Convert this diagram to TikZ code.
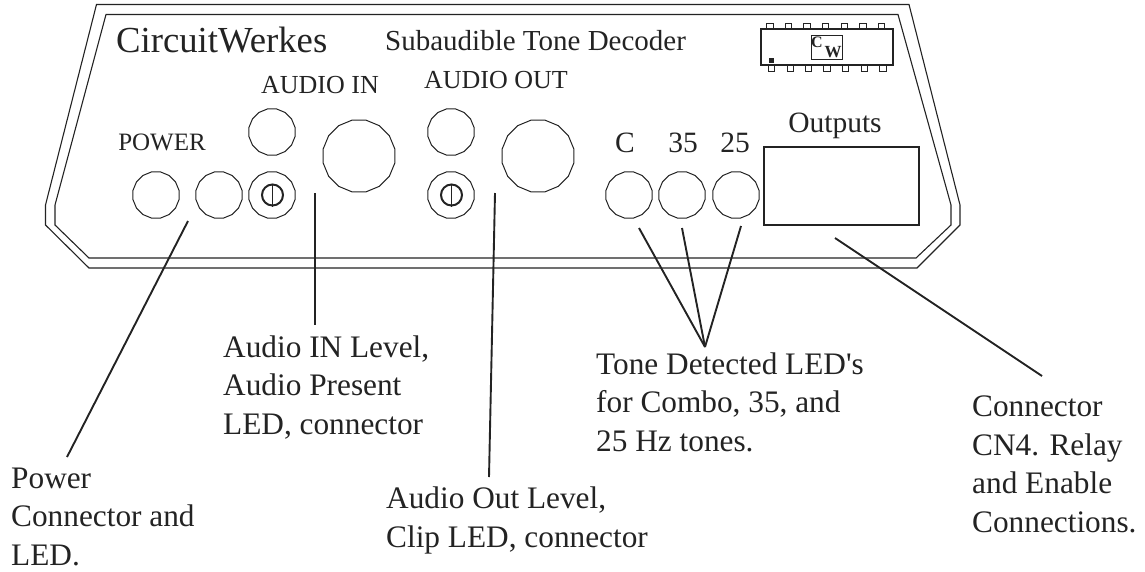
\documentclass[tikz,border=0pt]{standalone}
\usepackage{fontspec}
\setmainfont{Liberation Serif}
\usetikzlibrary{positioning,shapes.geometric}
\definecolor{PanelInk}{RGB}{35,35,35}
\tikzset{
  panelline/.style={draw=PanelInk,line width=1.1pt,line join=miter},
  leader/.style={draw=PanelInk,line width=1.9pt},
  led/.style={regular polygon,regular polygon sides=16,draw=PanelInk,line width=1pt,
    minimum size=47pt,inner sep=0pt},
  jack/.style={led,minimum size=73pt},
  trim/.style={circle,draw=PanelInk,line width=2pt,minimum size=21pt,inner sep=0pt},
  pin/.style={draw=PanelInk,line width=1pt,minimum width=6.5pt,minimum height=6pt,inner sep=0pt},
  paneltext/.style={text=PanelInk,font=\fontsize{26}{28}\selectfont,inner sep=0pt,anchor=base},
  note/.style={text=PanelInk,font=\fontsize{31.3}{38.5}\selectfont,align=left,inner sep=0pt,anchor=base west}
}
\begin{document}
\begin{tikzpicture}[x=1pt,y=-1pt]
  \useasboundingbox (0,0) rectangle (1145,571);
  % panel outline
  \draw[panelline] (96.5,4.5) -- (909,4.5) -- (960,205) -- (960,225) -- (917,268) -- (89,268)
    -- (45.5,225) -- (45.5,205) -- cycle;
  \draw[panelline] (106,14.5) -- (898,14.5) -- (951,205) -- (951,225) -- (916,258) -- (89,258)
    -- (55,225) -- (55,205) -- cycle;
  % panel text
  \node[paneltext,font=\fontsize{36.7}{38}\selectfont,anchor=base west] (brand) at (116,52) {CircuitWerkes};
  \node[paneltext,font=\fontsize{29}{31}\selectfont,anchor=base west] (title) at (385,50) {Subaudible Tone Decoder};
  \node[paneltext] (audioin) at (320,93) {AUDIO IN};
  \node[paneltext] (audioout) at (496,88) {AUDIO OUT};
  \node[paneltext,font=\fontsize{25}{27}\selectfont] (power) at (162,150) {POWER};
  \node[paneltext,font=\fontsize{29.5}{31}\selectfont] (lblc) at (625,152) {C};
  \node[paneltext,font=\fontsize{29.5}{31}\selectfont] (lblb) at (683,152) {35};
  \node[paneltext,font=\fontsize{29.5}{31}\selectfont] (lbla) at (735,152) {25};
  \node[paneltext,font=\fontsize{29.5}{31}\selectfont] (outputs) at (835,132) {Outputs};
  % connectors on the panel
  \node[led] (pwrjack) at (156,195) {};
  \node[led] (pwrled) at (219,195) {};
  \node[led] (inled) at (272,132) {};
  \node[led] (intrim) at (272,195) {};
  \node[trim] at (272.5,195) (inscrew) {};
  \draw[line width=1.7pt,draw=PanelInk] (inscrew.north) -- (inscrew.south);
  \node[jack] (injack) at (359,156) {};
  \node[led] (outled) at (451,132) {};
  \node[led] (outtrim) at (451,195) {};
  \node[trim] at (451.5,195) (outscrew) {};
  \draw[line width=1.7pt,draw=PanelInk] (outscrew.north) -- (outscrew.south);
  \node[jack] (outjack) at (538,156) {};
  \node[led] (ledc) at (629,195) {};
  \node[led] (ledb) at (682,195) {};
  \node[led] (leda) at (736,195) {};
  \node[draw=PanelInk,line width=1.1pt,minimum width=155pt,minimum height=78pt,inner sep=0pt] (cnfour) at (841.5,186) {};
  % chip with logo
  \foreach \x in {770,788.7,807,825.7,844.3,863,881.7} \node[pin] at (\x,26) {};
  \foreach \x in {771.3,790.3,808.3,827,845.7,864.3,883} \node[pin] at (\x,68) {};
  \node[draw=PanelInk,line width=1.9pt,fill=white,minimum width=132pt,minimum height=36pt,inner sep=0pt] (chip) at (827,47) {};
  \node[draw=PanelInk,line width=1pt,minimum width=31pt,minimum height=24pt,inner sep=0pt] (logo) at (826.5,47) {};
  \node[text=PanelInk,font=\bfseries\fontsize{16}{16}\selectfont,inner sep=0pt] at (817,42) (logoc) {C};
  \node[text=PanelInk,font=\bfseries\fontsize{17}{17}\selectfont,inner sep=0pt] at (833,52) (logow) {W};
  \node[fill=PanelInk,minimum size=5pt,inner sep=0pt] (pinone) at (771,60) {};
  % notes below
  \node[note] (notepower) at (11,565) {Power\\Connector and\\LED.};
  \node[note] (notein) at (223,434) {Audio IN Level,\\Audio Present\\LED, connector};
  \node[note] (noteout) at (386,547) {Audio Out Level,\\Clip LED, connector};
  \node[note] (notetone) at (596,451) {Tone Detected LED\textquotesingle s\\for Combo, 35, and\\25 Hz tones.};
  \node[note] (notecn) at (972,532) {Connector\\CN4.  Relay\\and Enable\\Connections.};
  % leader ends
  \coordinate (pwrtop) at (188,221);
  \coordinate (pwrend) at (67,457);
  \coordinate (intop) at (315,193);
  \coordinate (inend) at (315,325);
  \coordinate (outtop) at (495,193);
  \coordinate (outend) at (489,477);
  \coordinate (toneend) at (705,347);
  \coordinate (ctop) at (639,228);
  \coordinate (btop) at (682,228);
  \coordinate (atop) at (741,226);
  \coordinate (cntop) at (835,238);
  \coordinate (cnend) at (1042,376);
  \draw[leader] (pwrtop) -- (pwrend);
  \draw[leader] (intop) -- (inend);
  \draw[leader] (outtop) -- (outend);
  \draw[leader] (ctop) -- (toneend);
  \draw[leader] (btop) -- (toneend);
  \draw[leader] (atop) -- (toneend);
  \draw[leader] (cntop) -- (cnend);
\end{tikzpicture}
\end{document}
